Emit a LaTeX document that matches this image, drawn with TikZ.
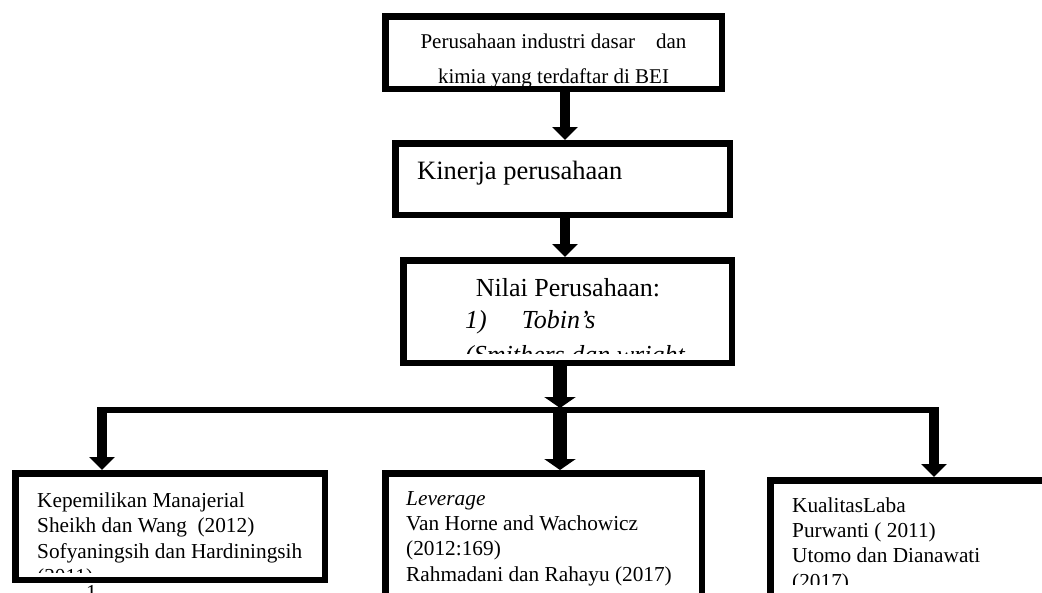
\documentclass[tikz,border=0pt]{standalone}
\usepackage{fontspec}
\setmainfont{Liberation Serif}
\usetikzlibrary{arrows.meta, positioning}

\begin{document}
\begin{tikzpicture}[x=1pt, y=-1pt, >={Triangle[width=25pt, length=13pt]},
  box/.style={draw, line width=6.5pt, inner sep=0pt},
  flow/.style={->, line width=10.5pt},
  mainflow/.style={-{Triangle[width=31pt, length=11pt]}, line width=14pt},
  bus/.style={line width=6.5pt},
  boxtext/.style={inner sep=0pt, anchor=base west, align=left,
    font=\fontsize{21.3}{25.3}\selectfont}]

  \useasboundingbox (0,0) rectangle (1042,592);
  \clip (0,0) rectangle (1042,592);

  % upper chain
  \node[box, minimum width=336.5pt, minimum height=72.5pt] (firma) at (553.5,52.5) {};
  \node[box, minimum width=334.5pt, minimum height=71.5pt,
        below=48pt of firma, xshift=9pt] (kinerja) {};
  \node[box, minimum width=328.5pt, minimum height=102.5pt,
        below=39pt of kinerja, xshift=5pt] (nilai) {};

  % lower row
  \node[box, anchor=north west, minimum width=309.5pt, minimum height=106.5pt] (manajerial) at (12,470) {};
  \node[box, anchor=north west, minimum width=316.5pt, minimum height=163.5pt] (leverage) at (382,470) {};
  \node[box, anchor=north west, minimum width=340pt, minimum height=163.5pt] (laba) at (767,477) {};

  % texts, cut off by their boxes (anchor = baseline of the last line)
  \begin{scope}
    \clip (firma.north west) rectangle ([yshift=6pt]firma.south east);
    \node[inner sep=0pt, anchor=base, align=center,
          font=\fontsize{21}{35}\selectfont] (firmatext) at (553.5,83)
      {Perusahaan industri dasar~~~~dan\\kimia yang terdaftar di BEI};
  \end{scope}

  \node[inner sep=0pt, anchor=base west, font=\fontsize{26.5}{30}\selectfont]
    (kinerjatext) at (417,179) {Kinerja perusahaan};

  \begin{scope}
    \clip (nilai.north west) rectangle ([yshift=13pt]nilai.south east);
    \node[inner sep=0pt, anchor=base, font=\fontsize{26}{32}\selectfont]
      (nilaititle) at (568,296) {Nilai Perusahaan:};
    \node[inner sep=0pt, anchor=base west, align=left,
          font=\fontsize{26}{35}\selectfont\itshape] (nilaiitem) at (465,363)
      {1)\hspace{35pt}Tobin’s\\(Smithers dan wright};
  \end{scope}

  \begin{scope}
    \clip (manajerial.north west) rectangle ([yshift=11pt]manajerial.south east);
    \node[boxtext, font=\fontsize{21.3}{25.5}\selectfont] (manajerialtext) at (37,583.5)
      {Kepemilikan Manajerial\\Sheikh dan Wang~~(2012)\\Sofyaningsih dan Hardiningsih\\(2011)};
  \end{scope}

  \node[boxtext] (leveragetext) at (406,581)
    {\textit{Leverage}\\Van Horne and Wachowicz\\(2012:169)\\Rahmadani dan Rahayu (2017)};

  \begin{scope}
    \clip (laba.north west) rectangle (1042,584);
    \node[boxtext] (labatext) at (792,588)
      {KualitasLaba\\Purwanti ( 2011)\\Utomo dan Dianawati\\(2017)};
  \end{scope}

  \node[inner sep=0pt, anchor=base west, font=\fontsize{21.3}{25}\selectfont]
    (nomor) at (86,599) {1.};

  % connectors
  \coordinate (axis) at (565,0);
  \coordinate (split) at (560,410);
  \coordinate (leftdrop) at (102,410);
  \coordinate (rightdrop) at (934,410);

  \draw[flow] (firma.south -| axis) -- (kinerja.north -| axis);
  \draw[flow] (kinerja.south -| axis) -- (nilai.north -| axis);

  \draw[bus] (leftdrop) -- (rightdrop);
  \draw[mainflow, shorten >=2pt] (nilai.south -| split) -- (split);
  \draw[mainflow] (split) -- (leverage.north -| split);
  \draw[flow] ([yshift=3pt]leftdrop) -- (manajerial.north -| leftdrop);
  \draw[flow] ([yshift=3pt]rightdrop) -- (laba.north -| rightdrop);

\end{tikzpicture}
\end{document}
